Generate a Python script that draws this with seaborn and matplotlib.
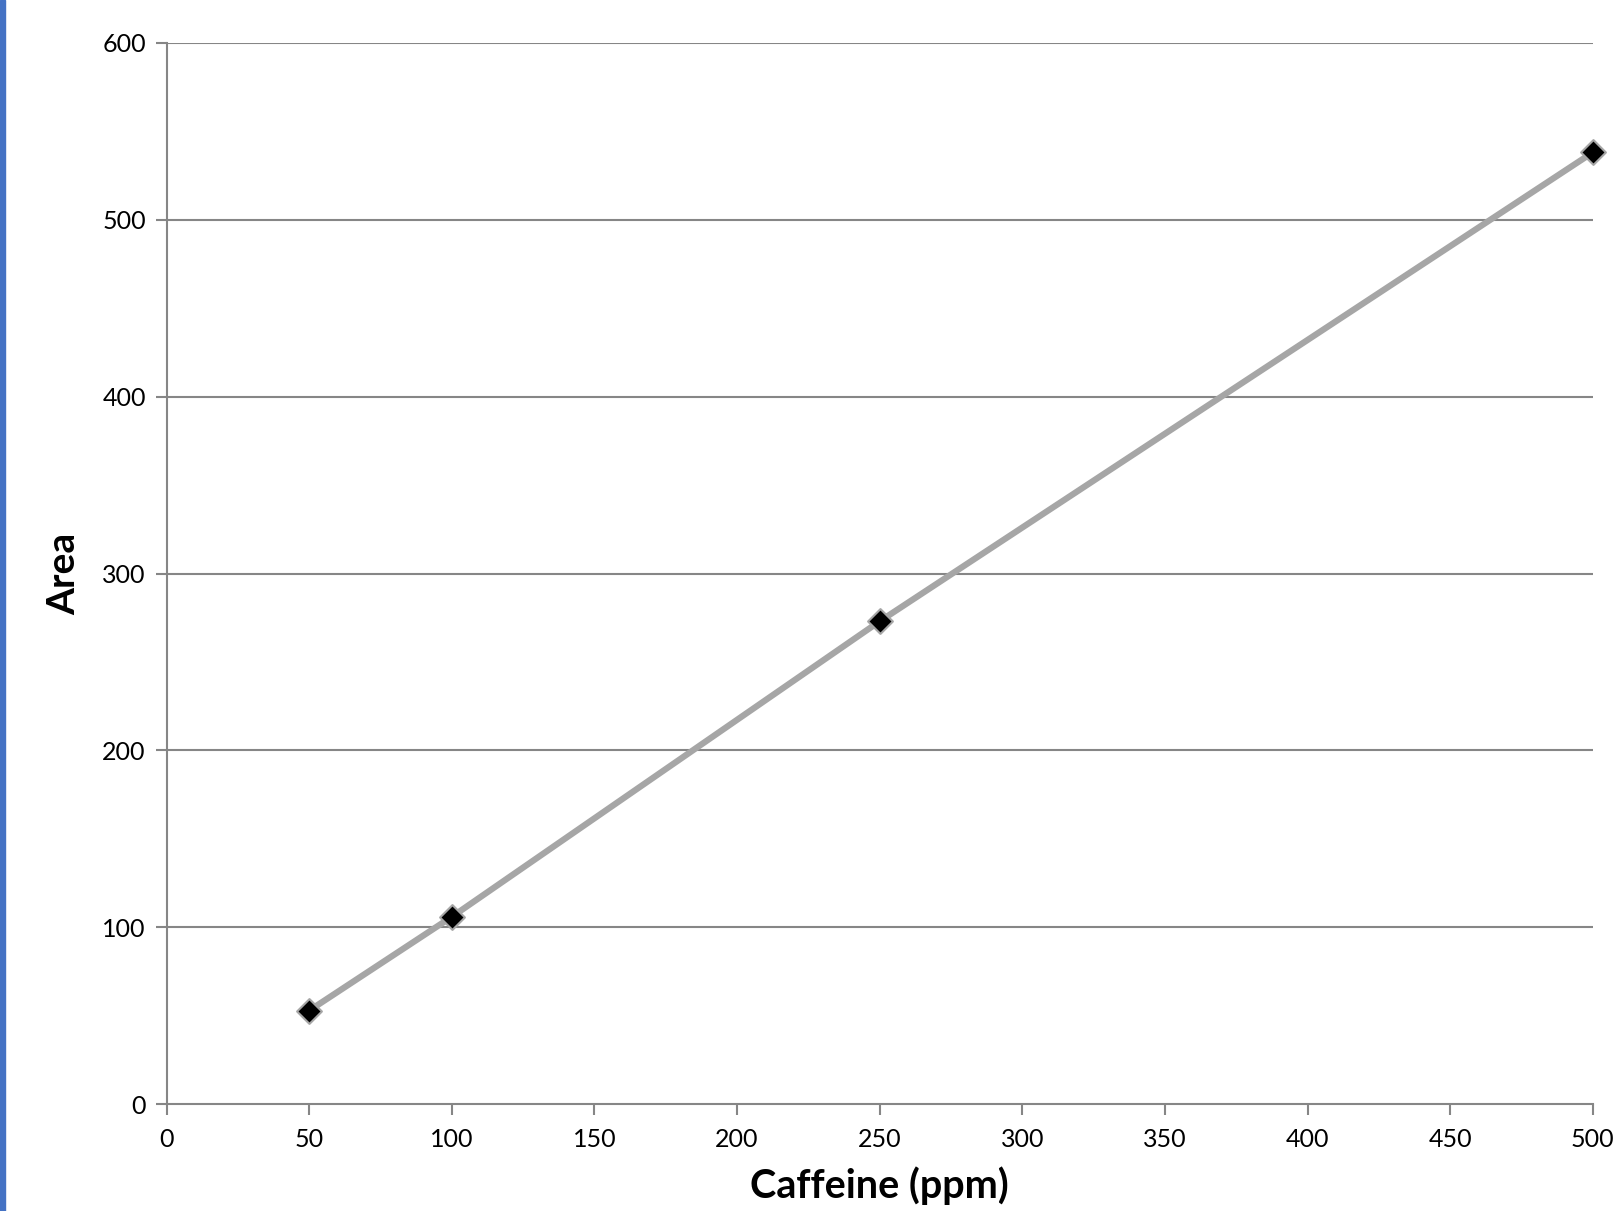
import numpy as np
import pandas as pd
import seaborn as sns
import matplotlib.pyplot as plt
from matplotlib.patches import Rectangle

# data
caffeine = [50, 100, 250, 500]
area = [53, 106, 273, 538]
x_ticks = [0, 50, 100, 150, 200, 250, 300, 350, 400, 450, 500]
y_ticks = [0, 100, 200, 300, 400, 500, 600]

df = pd.DataFrame({'caffeine': caffeine, 'area': area})

sns.set_style('white')
plt.rcParams['font.family'] = ['Lato', 'DejaVu Sans']
plt.rcParams['text.color'] = 'black'
plt.rcParams['xtick.color'] = 'black'
plt.rcParams['ytick.color'] = 'black'
plt.rcParams['axes.labelcolor'] = 'black'

fig = plt.figure(figsize=(16.18, 12.11), dpi=100)
ax = fig.add_axes([0.103, 0.0881, 0.8814, 0.8766])

grid_col = '#868686'
for y in y_ticks[1:]:
    ax.axhline(y, color=grid_col, lw=1.5, zorder=0)

sns.lineplot(data=df, x='caffeine', y='area', ax=ax, color='#A6A6A6', lw=4.5, zorder=2)
sns.scatterplot(data=df, x='caffeine', y='area', ax=ax, marker='D', s=160,
                color='black', edgecolor='#A6A6A6', linewidth=1.5, zorder=3)
for c in ax.collections:
    c.set_clip_on(False)

ax.set_xlim(0, 500)
ax.set_ylim(0, 600)
ax.set_xticks(x_ticks)
ax.set_yticks(y_ticks)
ax.tick_params(axis='both', direction='out', length=8, width=1.5, color=grid_col,
               labelcolor='black', labelsize=18, bottom=True, left=True)
ax.tick_params(axis='x', pad=9)
ax.tick_params(axis='y', pad=7)
for side in ['top', 'right']:
    ax.spines[side].set_visible(False)
for side in ['left', 'bottom']:
    ax.spines[side].set_color(grid_col)
    ax.spines[side].set_linewidth(1.5)

ax.set_xlabel('Caffeine (ppm)', fontsize=28.5, fontweight='bold', labelpad=11)
ax.set_ylabel('Area', fontsize=28, fontweight='bold', labelpad=15)

# blue edge strip on the left
fig.patches.append(Rectangle((0, 0), 5 / 1618, 1, transform=fig.transFigure,
                             color='#4472C4', zorder=5))

fig.savefig('out.png', dpi=100)
